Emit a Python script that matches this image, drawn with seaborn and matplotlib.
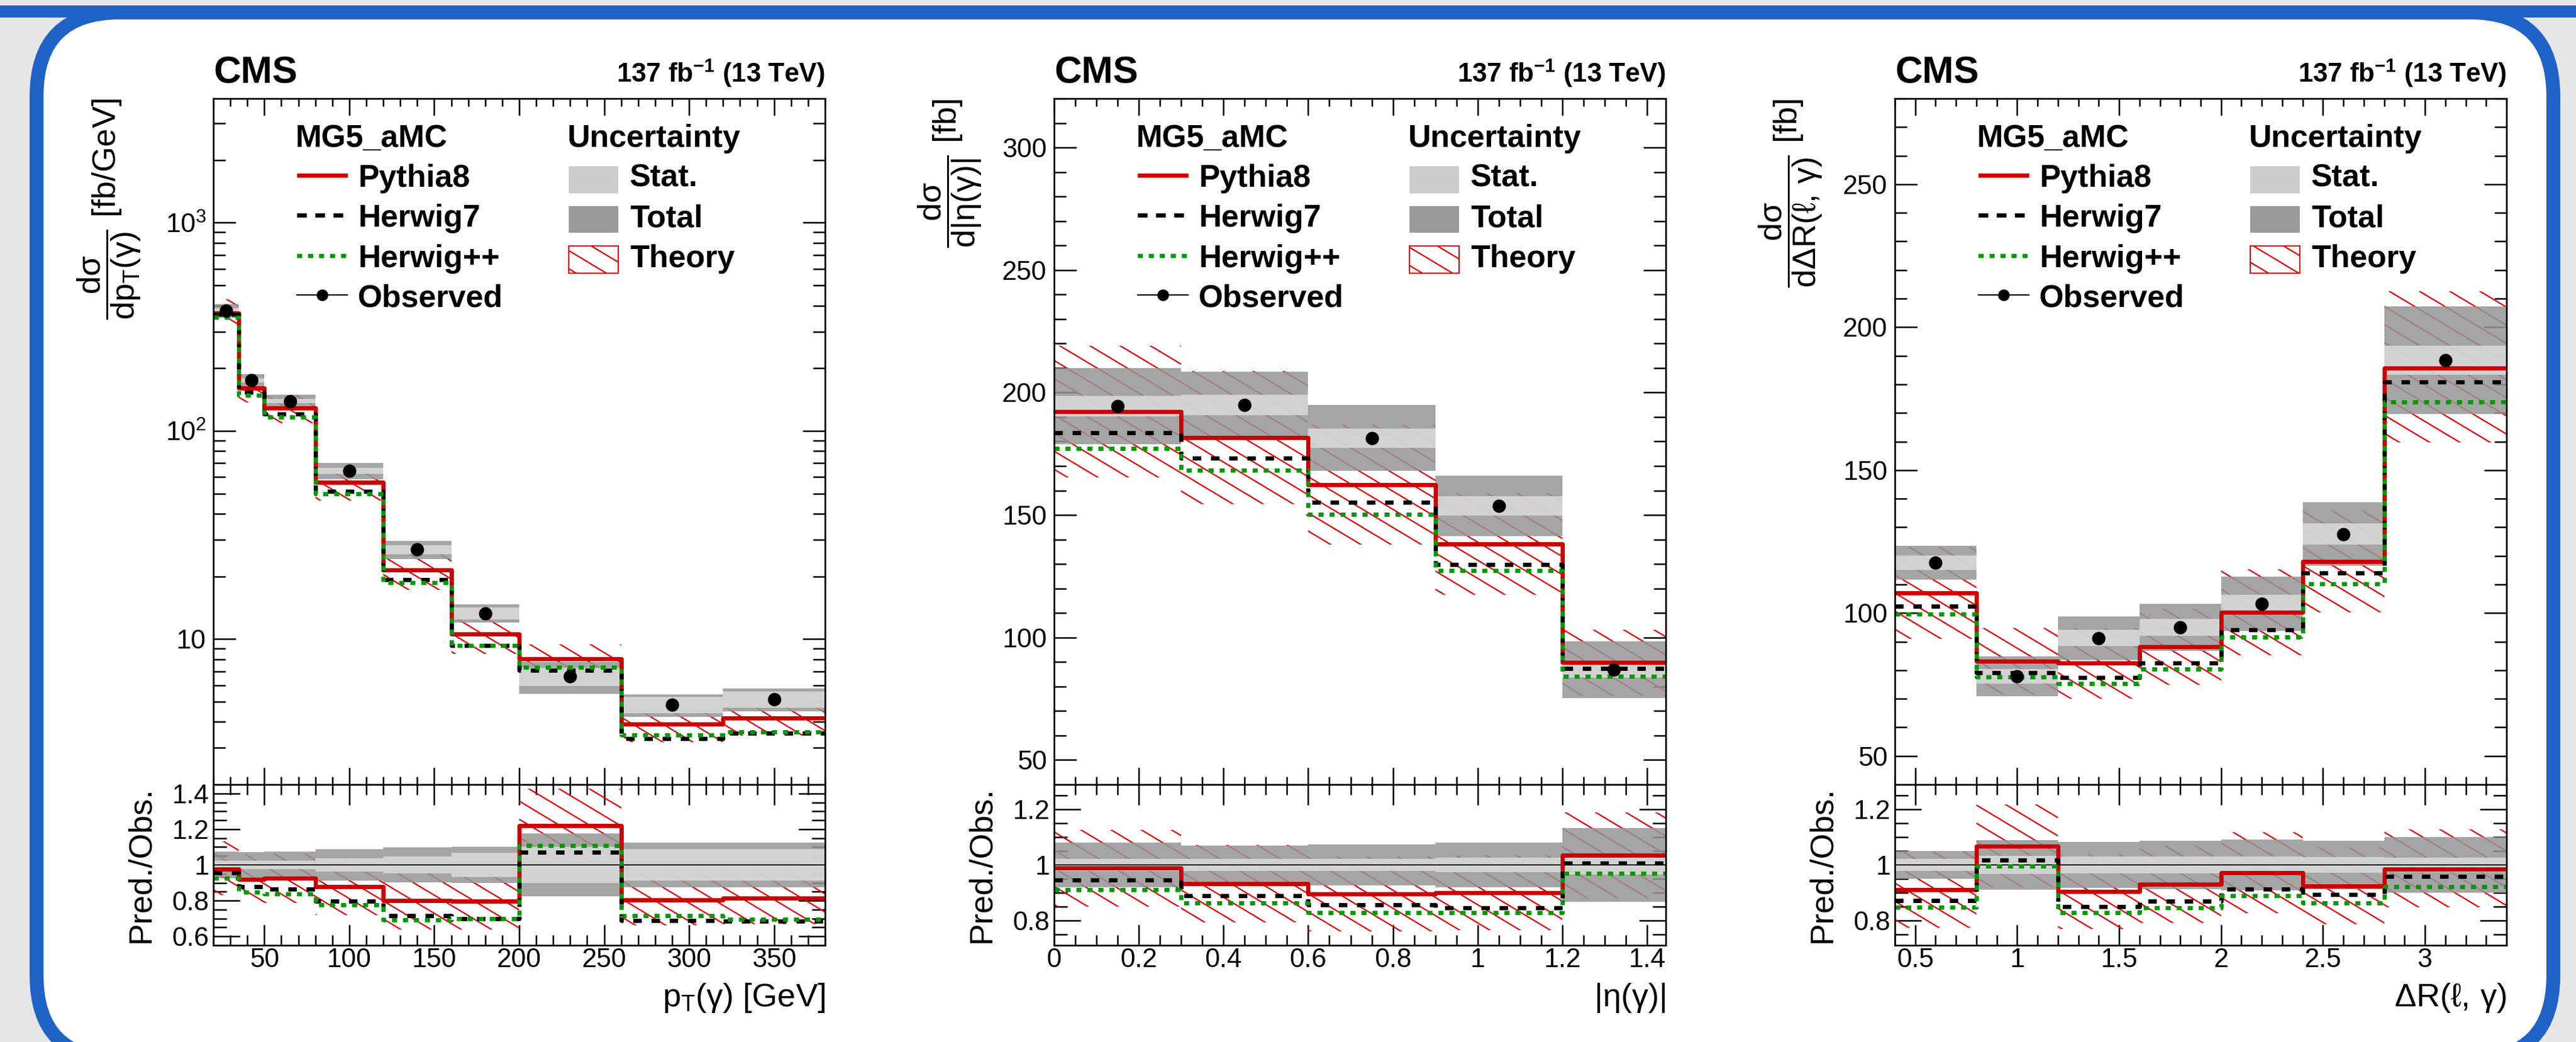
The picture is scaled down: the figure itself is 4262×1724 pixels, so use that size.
import numpy as np
import matplotlib
matplotlib.use("Agg")
import matplotlib.pyplot as plt
import matplotlib.hatch as mhatch
from matplotlib.path import Path
import seaborn as sns
from matplotlib.patches import FancyBboxPatch, Rectangle
from matplotlib.ticker import (MultipleLocator, FixedLocator, FixedFormatter,
                               FuncFormatter, LogLocator, NullFormatter)

# ---------------- data ----------------
# photon pT
pt_edges = [20, 35, 50, 80, 120, 160, 200, 260, 320, 380]
pt_obs = [378, 175, 139, 64.3, 26.9, 13.3, 6.6, 4.83, 5.13]
pt_stat = [0.025, 0.024, 0.024, 0.036, 0.048, 0.066, 0.10, 0.089, 0.089]
pt_total = [0.075, 0.070, 0.073, 0.087, 0.098, 0.100, 0.176, 0.125, 0.125]
pt_pythia8 = [369, 161, 128.6, 56.5, 21.5, 10.6, 8.05, 3.89, 4.18]
pt_herwig7 = [362, 153.7, 120.4, 51.3, 19.3, 9.30, 7.07, 3.32, 3.52]
pt_herwigpp = [350, 148.4, 116.2, 50.0, 18.6, 9.30, 7.32, 3.46, 3.57]
pt_theo_up = [0.16, 0.15, 0.15, 0.18, 0.19, 0.19, 0.17, 0.18, 0.18]
pt_theo_dn = [0.15, 0.15, 0.15, 0.18, 0.20, 0.20, 0.17, 0.18, 0.18]

# photon |eta|
eta_edges = [0, 0.3, 0.6, 0.9, 1.2, 1.4442]
eta_obs = [194.4, 194.9, 181.4, 153.7, 86.8]
eta_stat = [0.022, 0.022, 0.022, 0.026, 0.035]
eta_total = [0.080, 0.070, 0.074, 0.080, 0.133]
eta_pythia8 = [192.1, 181.6, 162.4, 138.2, 89.8]
eta_herwig7 = [183.7, 173.3, 155.3, 129.9, 87.4]
eta_herwigpp = [177.1, 168.2, 150.2, 127.3, 84.1]
eta_theo_up = [0.14, 0.15, 0.15, 0.15, 0.15]
eta_theo_dn = [0.14, 0.15, 0.15, 0.15, 0.15]

# delta R(lepton, photon)
dr_edges = [0.4, 0.8, 1.2, 1.6, 2.0, 2.4, 2.8, 3.4]
dr_obs = [117.6, 77.9, 91.2, 94.9, 103.2, 127.6, 188.5]
dr_stat = [0.022, 0.033, 0.031, 0.031, 0.031, 0.029, 0.027]
dr_total = [0.050, 0.089, 0.083, 0.087, 0.092, 0.087, 0.100]
dr_pythia8 = [107.1, 83.2, 82.4, 88.2, 100.3, 118.0, 185.7]
dr_herwig7 = [102.4, 79.2, 77.4, 82.5, 94.1, 114.1, 180.8]
dr_herwigpp = [99.6, 77.6, 75.4, 80.3, 91.7, 110.2, 173.8]
dr_theo_up = [0.15, 0.14, 0.15, 0.15, 0.15, 0.15, 0.145]
dr_theo_dn = [0.15, 0.14, 0.15, 0.15, 0.15, 0.15, 0.14]


# shallower "\" hatch (about 31 degrees), tiles in the unit cell
class ShallowBackHatch(mhatch.HatchPatternBase):
    def __init__(self, hatch, density):
        self.ks = np.arange(-12, 30) if "\\" in hatch else np.arange(0)
        self.num_vertices = 2 * len(self.ks)

    def set_vertices_and_codes(self, vertices, codes):
        s, m = 0.6, 10
        c = self.ks / m
        vertices[0::2, 0] = -0.5
        vertices[0::2, 1] = c + 0.5 * s
        vertices[1::2, 0] = 1.5
        vertices[1::2, 1] = c - 1.5 * s
        codes[0::2] = Path.MOVETO
        codes[1::2] = Path.LINETO


mhatch._hatch_types = [t for t in mhatch._hatch_types
                       if t is not mhatch.SouthEastHatch] + [ShallowBackHatch]

# ---------------- style ----------------
sns.set_style("ticks")
plt.rcParams.update({
    "font.family": ["Liberation Sans", "DejaVu Sans"],
    "mathtext.fontset": "custom",
    "mathtext.rm": "Liberation Sans",
    "mathtext.it": "Liberation Sans",
    "mathtext.bf": "Liberation Sans:bold",
    "hatch.linewidth": 0.55,
    "axes.linewidth": 0.65,
    "axes.edgecolor": "black",
    "text.color": "black",
    "xtick.color": "black",
    "ytick.color": "black",
})

RED = "#cc0000"
HATCH = "#e00000"
GREEN = "#009900"
TOT = "#969696"
STAT = "#dbdbdb"
ALPHA = 0.85
LW = 1.68
DASH = (0, (2.0, 2.3))
DOT = (0, (1.2, 1.4))

W, H, DPI = 4262, 1724, 300
fig = plt.figure(figsize=(W / DPI, H / DPI), dpi=DPI)
fig.patch.set_facecolor("#e6e6e6")


def px(x, y):
    return x / DPI, (H - y) / DPI


# rounded blue frame
fx0, fy0 = px(60.5, 1752.5)
fx1, fy1 = px(4224.5, 20.5)
frame = FancyBboxPatch((fx0, fy0), fx1 - fx0, fy1 - fy0,
                       boxstyle="round,pad=0,rounding_size=%f" % (138.5 / DPI),
                       transform=fig.dpi_scale_trans, facecolor="white",
                       edgecolor="#1f62c8", lw=23 * 72 / DPI, zorder=-10)
fig.patches.append(frame)
bx, by = px(0, 29)
fig.patches.append(Rectangle((bx, by), W / DPI, 20 / DPI, transform=fig.dpi_scale_trans,
                             facecolor="#1f62c8", edgecolor="none", zorder=-9))

lefts = [353, 1744, 3135]
AW = 1012
TOP, SPLIT, BOT = 163, 1298, 1564


def steps(ax, edges, vals, **kw):
    x = list(edges)
    y = list(vals) + [vals[-1]]
    sns.lineplot(x=x, y=y, ax=ax, drawstyle="steps-post", legend=False, **kw)


def bands(ax, edges, obs, stat, total, pred, up, dn):
    ax.stairs(pred * (1 + up), edges, baseline=pred * (1 - dn), fill=True,
              facecolor="none", edgecolor=HATCH, hatch="\\", lw=0, zorder=1)
    ax.stairs(obs * (1 + total), edges, baseline=obs * (1 - total), fill=True,
              color=TOT, alpha=ALPHA, lw=0, zorder=2)
    ax.stairs(obs * (1 + stat), edges, baseline=obs * (1 - stat), fill=True,
              color=STAT, alpha=ALPHA, lw=0, zorder=3)


def predictions(ax, edges, py8, hw7, hwpp):
    steps(ax, edges, py8, color=RED, lw=LW, zorder=5)
    steps(ax, edges, hw7, color="black", lw=LW, linestyle=DASH, zorder=6)
    steps(ax, edges, hwpp, color=GREEN, lw=LW, linestyle=DOT, zorder=7)


def legend(ax):
    t = ax.transAxes
    fs = 12.5
    base = [0.9295, 0.8714, 0.8132, 0.7542, 0.6969]
    mid = [b + 0.0167 for b in base]
    ax.text(0.1334, base[0], "MG5_aMC", transform=t, fontsize=fs, fontweight="bold", va="baseline")
    for i, lab in enumerate(["Pythia8", "Herwig7", "Herwig++", "Observed"]):
        ax.text(0.2362, base[i + 1], lab, transform=t, fontsize=fs, fontweight="bold", va="baseline")
    hx = [0.1364, 0.2194]
    ax.plot(hx, [mid[1]] * 2, transform=t, color=RED, lw=LW, solid_capstyle="butt")
    ax.plot(hx, [mid[2]] * 2, transform=t, color="black", lw=LW, linestyle=(0, (2.3, 2.0)))
    ax.plot(hx, [mid[3]] * 2, transform=t, color=GREEN, lw=LW, linestyle=DOT)
    ax.plot(hx, [mid[4]] * 2, transform=t, color="black", lw=0.5)
    ax.plot([0.5 * (hx[0] + hx[1])], [mid[4]], transform=t, marker="o", ms=4.6,
            color="black", mew=0)
    ax.text(0.5791, base[0], "Uncertainty", transform=t, fontsize=fs, fontweight="bold", va="baseline")
    for i, lab in enumerate(["Stat.", "Total", "Theory"]):
        ax.text(0.6808, base[i + 1], lab, transform=t, fontsize=fs, fontweight="bold", va="baseline")
    h = 0.0396
    centers = [0.8819, 0.8238, 0.7656]
    ax.add_patch(Rectangle((0.5810, centers[0] - h / 2), 0.0811, h, transform=t,
                           facecolor="#cdcdcd", edgecolor="none"))
    ax.add_patch(Rectangle((0.5810, centers[1] - h / 2), 0.0811, h, transform=t,
                           facecolor="#9a9a9a", edgecolor="none"))
    ax.add_patch(Rectangle((0.5810, centers[2] - h / 2), 0.0811, h, transform=t,
                           facecolor="none", edgecolor=HATCH, hatch="\\", lw=0.5))


def panel(i, edges, obs, stat, total, py8, hw7, hwpp, up, dn, ylabel, xlabel):
    l = lefts[i] / W
    ax = fig.add_axes([l, 1 - SPLIT / H, AW / W, (SPLIT - TOP) / H])
    axr = fig.add_axes([l, 1 - BOT / H, AW / W, (BOT - SPLIT) / H])
    edges = np.asarray(edges, float)
    obs = np.asarray(obs, float)
    stat = np.asarray(stat, float)
    total = np.asarray(total, float)
    py8 = np.asarray(py8, float)
    hw7 = np.asarray(hw7, float)
    hwpp = np.asarray(hwpp, float)
    up = np.asarray(up, float)
    dn = np.asarray(dn, float)
    centers = 0.5 * (edges[1:] + edges[:-1])

    if i == 0:
        ax.set_yscale("log")

    # upper panel
    bands(ax, edges, obs, stat, total, py8, up, dn)
    predictions(ax, edges, py8, hw7, hwpp)
    sns.scatterplot(x=centers, y=obs, ax=ax, color="black", s=5.3 ** 2, linewidth=0,
                    zorder=8, legend=False)

    # ratio panel
    r_py, r_h7, r_hpp = py8 / obs, hw7 / obs, hwpp / obs
    ones = np.ones_like(obs)
    bands(axr, edges, ones, stat, total, r_py, up, dn)
    axr.axhline(1, color="black", lw=0.45, zorder=4)
    predictions(axr, edges, r_py, r_h7, r_hpp)

    for a in (ax, axr):
        a.set_xlim(edges[0], edges[-1])
        a.set_xlabel("")
        a.set_ylabel("")
        a.tick_params(which="both", direction="in", top=True, right=True, width=0.6)
        for s in a.spines.values():
            s.set_zorder(20)
    ax.tick_params(axis="x", which="major", length=6.7, labelbottom=False)
    ax.tick_params(axis="x", which="minor", length=3.2)
    ax.tick_params(axis="y", which="major", length=8.9, pad=2.9, labelsize=10.6)
    ax.tick_params(axis="y", which="minor", length=4.8)
    axr.tick_params(axis="x", which="major", length=8.2, labelsize=10.6, pad=1.0)
    axr.tick_params(axis="x", which="minor", length=4.0)
    axr.tick_params(axis="y", which="major", length=10.6, labelsize=10.6, pad=1.7)
    axr.tick_params(axis="y", which="minor", length=5.3)

    fmt = FuncFormatter(lambda v, p: "%g" % round(v, 6))
    axr.xaxis.set_major_formatter(fmt)
    axr.yaxis.set_major_formatter(fmt)
    axr.yaxis.set_major_locator(MultipleLocator(0.2))
    axr.yaxis.set_minor_locator(MultipleLocator(0.05))

    if i == 0:
        ax.set_ylim(2, 3950)
        ax.yaxis.set_major_locator(FixedLocator([10, 100, 1000]))
        ax.yaxis.set_major_formatter(FixedFormatter(["10", r"$10^{2}$", r"$10^{3}$"]))
        ax.yaxis.set_minor_locator(LogLocator(base=10, subs=np.arange(2, 10)))
        ax.yaxis.set_minor_formatter(NullFormatter())
        axr.set_ylim(0.55, 1.45)
        for a in (ax, axr):
            a.xaxis.set_major_locator(MultipleLocator(50))
            a.xaxis.set_minor_locator(MultipleLocator(10))
    elif i == 1:
        ax.set_ylim(40, 320)
        axr.set_ylim(0.71, 1.29)
        for a in (ax, axr):
            a.xaxis.set_major_locator(MultipleLocator(0.2))
            a.xaxis.set_minor_locator(MultipleLocator(0.05))
    else:
        ax.set_ylim(40, 280)
        axr.set_ylim(0.71, 1.29)
        for a in (ax, axr):
            a.xaxis.set_major_locator(MultipleLocator(0.5))
            a.xaxis.set_minor_locator(MultipleLocator(0.1))
    if i > 0:
        ax.yaxis.set_major_locator(MultipleLocator(50))
        ax.yaxis.set_minor_locator(MultipleLocator(10))
        ax.yaxis.set_major_formatter(fmt)

    # texts
    ah = SPLIT - TOP
    ax.text(0, 1 + 26 / ah, "CMS", transform=ax.transAxes, fontsize=15, fontweight="bold",
            ha="left", va="baseline")
    ax.text(1, 1 + 26 / ah, r"137 fb$^{\mathbf{-1}}$ (13 TeV)", transform=ax.transAxes,
            fontsize=10.5, fontweight="bold", ha="right", va="baseline")
    ax.text(-172 / AW, 1.0, ylabel, transform=ax.transAxes, rotation=90, fontsize=13,
            ha="center", va="top")
    axr.text(-120 / AW, 0.5, "Pred./Obs.", transform=axr.transAxes, rotation=90,
             fontsize=13, ha="center", va="center")
    axr.text(1, -(1665 - BOT) / (BOT - SPLIT), xlabel, transform=axr.transAxes,
             fontsize=13, ha="right", va="baseline")
    legend(ax)


panel(0, pt_edges, pt_obs, pt_stat, pt_total, pt_pythia8, pt_herwig7, pt_herwigpp,
      pt_theo_up, pt_theo_dn,
      r"$\dfrac{d\sigma}{dp_{T}(\gamma)}$ [fb/GeV]", r"$p_{T}(\gamma)$ [GeV]")
panel(1, eta_edges, eta_obs, eta_stat, eta_total, eta_pythia8, eta_herwig7, eta_herwigpp,
      eta_theo_up, eta_theo_dn,
      r"$\dfrac{d\sigma}{d|\eta(\gamma)|}$ [fb]", r"$|\eta(\gamma)|$")
panel(2, dr_edges, dr_obs, dr_stat, dr_total, dr_pythia8, dr_herwig7, dr_herwigpp,
      dr_theo_up, dr_theo_dn,
      r"$\dfrac{d\sigma}{d\Delta R(\ell,\,\gamma)}$ [fb]", r"$\Delta R(\ell,\,\gamma)$")

fig.savefig("out.png", dpi=DPI, facecolor=fig.get_facecolor())
